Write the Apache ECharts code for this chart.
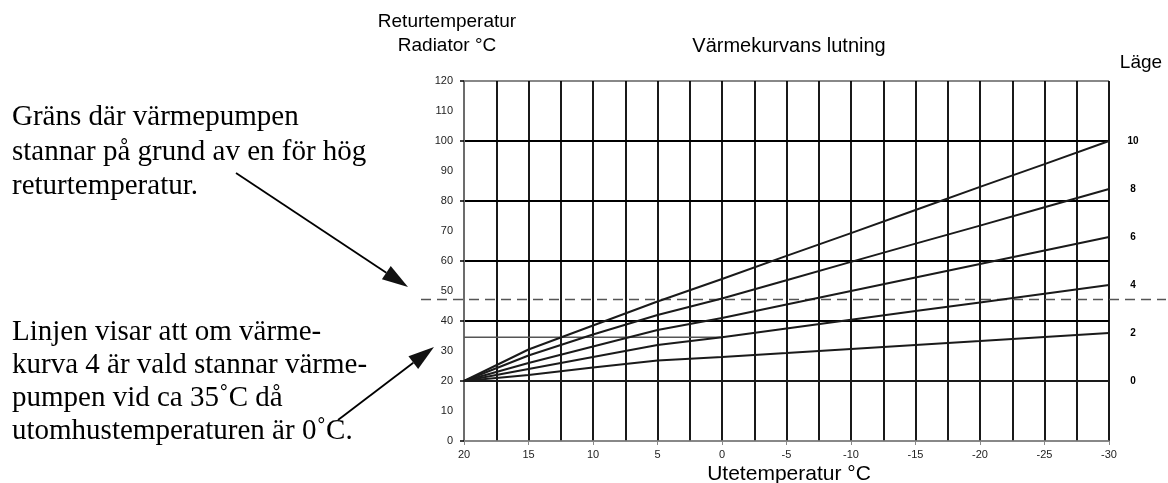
<!DOCTYPE html>
<html>
<head>
<meta charset="utf-8">
<script src="https://cdn.jsdelivr.net/npm/echarts@6/dist/echarts.min.js"></script>
<style>
html,body{margin:0;padding:0;background:#fff;}
#chart{width:1168px;height:483px;}
</style>
</head>
<body>
<div id="chart"></div>
<script>
// ---- data ----
var outdoorTemps = [20, 15, 10, 5, 0, -5, -10, -15, -20, -25, -30];
var curve10 = [20, 30.5, 38.5, 46.5, 54, 61.7, 69.3, 77, 84.7, 92.3, 100];
var curve8  = [20, 28.5, 35.5, 42, 47.5, 53.6, 59.7, 65.8, 71.8, 77.9, 84];
var curve6  = [20, 26, 31.5, 37, 41, 45.5, 50, 54.5, 59, 63.5, 68];
var curve4  = [20, 24, 28, 32, 34.6, 37.5, 40.4, 43.3, 46.2, 49.1, 52];
var curve2  = [20, 22, 24.5, 26.8, 28, 29.3, 30.7, 32, 33.3, 34.7, 36];
var curve0  = [20, 20, 20, 20, 20, 20, 20, 20, 20, 20, 20];
var curveNames = ['10', '8', '6', '4', '2', '0'];
var stopLimit = 47.2;            // dashed limit line (return temperature)
var exampleTemp = 34.6;          // curve 4 at 0 °C
var exampleXRange = [20, 0];

var yTitle1 = 'Returtemperatur';
var yTitle2 = 'Radiator °C';
var chartTitle = 'Värmekurvans lutning';
var xTitle = 'Utetemperatur °C';
var legendTitle = 'Läge';
var note1 = ['Gräns där värmepumpen', 'stannar på grund av en för hög', 'returtemperatur.'];
var note2 = ['Linjen visar att om värme-', 'kurva 4 är vald stannar värme-', 'pumpen vid ca 35˚C då', 'utomhustemperaturen är 0˚C.'];

function pairs(vals){ return outdoorTemps.map(function(x,i){ return [x, vals[i]]; }); }

var chart = echarts.init(document.getElementById('chart'), null, {renderer:'canvas'});
var allCurves = [curve10, curve8, curve6, curve4, curve2, curve0];

var series = allCurves.map(function(c, i){
  return {
    type:'line', name: curveNames[i], data: pairs(c), xAxisIndex:0, yAxisIndex:0,
    showSymbol:false, symbol:'none', silent:true,
    lineStyle:{color:'#1a1a1a', width:2},
    endLabel:{show:true, formatter:'{a}', distance:-24, align:'center', color:'#000', fontSize:10, fontWeight:'bold', fontFamily:'Liberation Sans, Arial'},
    z:5
  };
});
series.push({
  type:'line', name:'example', data:[[exampleXRange[0], exampleTemp],[exampleXRange[1], exampleTemp]],
  showSymbol:false, symbol:'none', silent:true,
  lineStyle:{color:'#555', width:1.5}, z:4
});

var serifFont = 'Liberation Serif, Times New Roman, serif';
var sansFont = 'Liberation Sans, Arial, sans-serif';

var option = {
  animation:false,
  backgroundColor:'#fff',
  grid:{left:464, right:59, top:81, bottom:42, containLabel:false},
  xAxis:{
    type:'value', inverse:true, min:-30, max:20, interval:5,
    axisLine:{show:true, onZero:false, lineStyle:{color:'#888', width:1.5}},
    axisTick:{show:true, length:4, lineStyle:{color:'#888'}},
    axisLabel:{color:'#222', fontSize:11, fontFamily:sansFont, margin:8},
    splitLine:{show:true, lineStyle:{color:'#000', width:1.8}},
    minorTick:{show:false, splitNumber:2},
    minorSplitLine:{show:true, lineStyle:{color:'#000', width:1.8}}
  },
  yAxis:[{
    type:'value', min:0, max:120, interval:10,
    axisLine:{show:true, onZero:false, lineStyle:{color:'#888', width:1.5}},
    axisTick:{show:false},
    axisLabel:{color:'#222', fontSize:11, fontFamily:sansFont, margin:11},
    splitLine:{show:false}
  },{
    type:'value', min:0, max:120, interval:20, position:'left',
    axisLine:{show:false, onZero:false},
    axisTick:{show:true, length:4, lineStyle:{color:'#000', width:1.5}},
    axisLabel:{show:false},
    splitLine:{show:true, lineStyle:{color:['#888','#000','#000','#000','#000','#000','#888'], width:1.8}}
  }],
  series: series
};
chart.setOption(option);

// ---- annotations (text + arrows + limit line) ----
function arrow(x1,y1,x2,y2,headLen,headW){
  var dx=x2-x1, dy=y2-y1, L=Math.sqrt(dx*dx+dy*dy), ux=dx/L, uy=dy/L;
  var bx=x2-ux*headLen, by=y2-uy*headLen, px=-uy, py=ux;
  return [
    {type:'line', shape:{x1:x1,y1:y1,x2:bx,y2:by}, style:{stroke:'#000', lineWidth:1.8}, silent:true},
    {type:'polygon', shape:{points:[[x2,y2],[bx+px*headW/2,by+py*headW/2],[bx-px*headW/2,by-py*headW/2]]}, style:{fill:'#111'}, silent:true}
  ];
}
var g = [];
function txt(x,y,s,size,font,align,weight){
  g.push({type:'text', x:x, y:y, silent:true,
    style:{text:s, fill:'#000', font:(weight||'normal')+' '+size+'px '+font, textAlign:align||'left', textVerticalAlign:'middle'}});
}
var limitY = chart.convertToPixel({yAxisIndex:0}, stopLimit);
g.push({type:'line', shape:{x1:421, y1:limitY, x2:1166, y2:limitY}, silent:true, z:4,
  style:{stroke:'#555', lineWidth:1.5, lineDash:[10,6]}});
txt(447, 22, yTitle1, 19, sansFont, 'center');
txt(447, 46, yTitle2, 19, sansFont, 'center');
txt(789, 46, chartTitle, 20, sansFont, 'center');
txt(1141, 63, legendTitle, 19, sansFont, 'center');
txt(789, 474, xTitle, 21, sansFont, 'center');
var n1y=[117,152,186];
note1.forEach(function(s,i){ txt(12, n1y[i], s, 29, serifFont, 'left'); });
var n2y=[332,365,398,431];
note2.forEach(function(s,i){ txt(12, n2y[i], s, 29, serifFont, 'left'); });
g = g.concat(arrow(236,173,408,287,26,16));
g = g.concat(arrow(338,420,434,347,26,16));
chart.setOption({graphic:g});
</script>
</body>
</html>
